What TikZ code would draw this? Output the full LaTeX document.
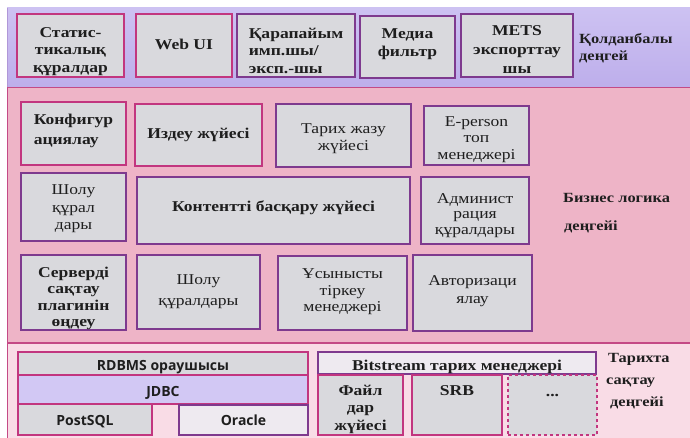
\documentclass[tikz,border=0pt]{standalone}
\usepackage{fontspec}
\setmainfont{Liberation Serif}[FakeStretch=1.17]
\newfontfamily\sansfam{Open Sans}
\usetikzlibrary{calc}

\definecolor{appband}{HTML}{BDAEEB}
\definecolor{appbandtop}{HTML}{CDC2F2}
\definecolor{bizband}{HTML}{EEB4C7}
\definecolor{storband}{HTML}{F9DCE6}
\definecolor{bandline}{HTML}{C44A86}
\definecolor{boxfill}{HTML}{D9D9DD}
\definecolor{lightfill}{HTML}{EEEAF0}
\definecolor{jdbcfill}{HTML}{D2C8F4}
\definecolor{pinkline}{HTML}{C2367F}
\definecolor{purpline}{HTML}{7E3A8E}
\definecolor{inktext}{HTML}{1E1E1E}

\tikzset{
  % a box given by its corners: span=x1/y1/x2/y2
  span/.style args={#1/#2/#3/#4}{
    at={({(#1+#3)/2},{(#2+#4)/2})},
    minimum width={(#3-#1)*1pt}, minimum height={(#4-#2)*1pt}},
  band/.style={draw=bandline, line width=1pt},
  cbox/.style={rectangle, fill=boxfill, line width=1.4pt, inner sep=0pt},
  pbox/.style={cbox, draw=pinkline},
  vbox/.style={cbox, draw=purpline},
  txt/.style={inner sep=0pt, align=center, text=inktext,
    font=\fontsize{15}{17.5}\selectfont},
  txtb/.style={txt, font=\fontsize{15}{17.5}\selectfont\bfseries},
  txts/.style={txt, font=\sansfam\fontsize{14}{16}\selectfont\bfseries},
  layerlabel/.style={anchor=west, align=left, text=inktext, inner sep=0pt,
    font=\fontsize{14}{17}\selectfont\bfseries},
}

% box with its caption: {box style}{text style}{name}{x1/y1/x2/y2}{text drop}{text}
\newcommand\layerbox[6]{%
  \node[#1, span=#4] (#3) {};
  \node[#2] (#3-t) at ($(#3.center)+(0,#5)$) {#6};
}

\begin{document}
\begin{tikzpicture}[x=1pt, y=-1pt]
\useasboundingbox (0,0) rectangle (690,438);
\fill[white] (0,0) rectangle (690,438);

% three layer bands
\shade[top color=appbandtop, bottom color=appband] (7,8) rectangle (690,88);
\draw[band, draw=appband!80!purpline] (690,88) -- (7,88) -- (7,8);
\fill[bizband] (7,88) rectangle (690,343);
\draw[band] (7,88) -- (690,88) (7,88) -- (7,343);
\fill[storband] (7,343) rectangle (690,438);
\draw[band, line width=1.6pt] (7,343) -- (690,343);
\draw[band] (7,343) -- (7,438);

% application layer
\layerbox{pbox}{txtb}{stat}{17/14/124/77}{6}{Статис-\\тикалық\\құралдар}
\layerbox{pbox}{txtb}{webui}{136/14/232/77}{-1}{Web UI}
\layerbox{vbox}{txtb, align=left}{impexp}{237/14/355/77}{5}{Қарапайым\\имп.шы/\\эксп.-шы}
\layerbox{vbox}{txtb}{media}{360/16/455/78}{-3}{Медиа\\фильтр}
\layerbox{vbox}{txtb, font=\fontsize{15}{19}\selectfont\bfseries}{mets}{461/14/573/77}{4}{METS\\экспорттау\\шы}
\node[layerlabel] (applbl) at (579,48) {Қолданбалы\\деңгей};

% business logic layer
\layerbox{pbox}{txtb, align=left, font=\fontsize{15}{20}\selectfont\bfseries}{config}{21/102/126/165}{-3}{Конфигур\\ациялау}
\layerbox{pbox}{txtb}{search}{135/104/262/166}{0}{Издеу жүйесі}
\layerbox{vbox}{txt}{history}{276/104/411/167}{3}{Тарих жазу\\жүйесі}
\layerbox{vbox}{txt, font=\fontsize{15}{16.5}\selectfont}{eperson}{424/106/529/165}{4}{E-person\\топ\\менеджері}
\layerbox{vbox}{txt}{browse}{21/173/126/241}{2}{Шолу\\құрал\\дары}
\layerbox{vbox}{txtb}{content}{137/177/410/244}{-3}{Контентті басқару жүйесі}
\layerbox{vbox}{txt, font=\fontsize{15}{15.5}\selectfont}{admin}{421/177/529/244}{5}{Админист\\рация\\құралдары}
\layerbox{vbox}{txtb, font=\fontsize{15}{16.5}\selectfont\bfseries}{plugin}{21/255/126/330}{6}{Серверді\\сақтау\\плагинін\\өңдеу}
\layerbox{vbox}{txt, font=\fontsize{15}{21}\selectfont}{browsetools}{137/255/260/329}{0}{Шолу\\құралдары}
\layerbox{vbox}{txt, font=\fontsize{15}{16.5}\selectfont}{submit}{278/256/407/330}{-1}{Ұсынысты\\тіркеу\\менеджері}
\layerbox{vbox}{txt}{auth}{413/255/532/331}{-2}{Авторизаци\\ялау}
\node[layerlabel] (bizlbl1) at (563,198) {Бизнес логика};
\node[layerlabel] (bizlbl2) at (564,227) {деңгейі};

% storage layer
\layerbox{pbox}{txts}{rdbms}{18/352/308/375}{4}{RDBMS ораушысы}
\layerbox{pbox, fill=jdbcfill}{txts}{jdbc}{18/375/308/404}{3}{JDBC}
\layerbox{pbox}{txts}{postsql}{18/404/152/435}{2}{PostSQL}
\layerbox{vbox, fill=lightfill}{txts}{oracle}{179/405/308/435}{0}{Oracle}
\layerbox{vbox, fill=lightfill}{txtb}{bitstream}{318/352/596/374}{4}{Bitstream тарих менеджері}
\layerbox{pbox}{txtb}{files}{318/375/403/435}{4}{Файл\\дар\\жүйесі}
\layerbox{pbox}{txtb}{srb}{412/375/502/435}{-14}{SRB}
\layerbox{pbox, dashed}{txtb}{more}{508/375/597/435}{-10}{...}
\node[layerlabel, font=\fontsize{14}{22}\selectfont\bfseries] (storlbl) at (608,381)
  {Тарихта\\\hspace*{-2pt}сақтау\\\hspace*{2pt}деңгейі};
\end{tikzpicture}
\end{document}
